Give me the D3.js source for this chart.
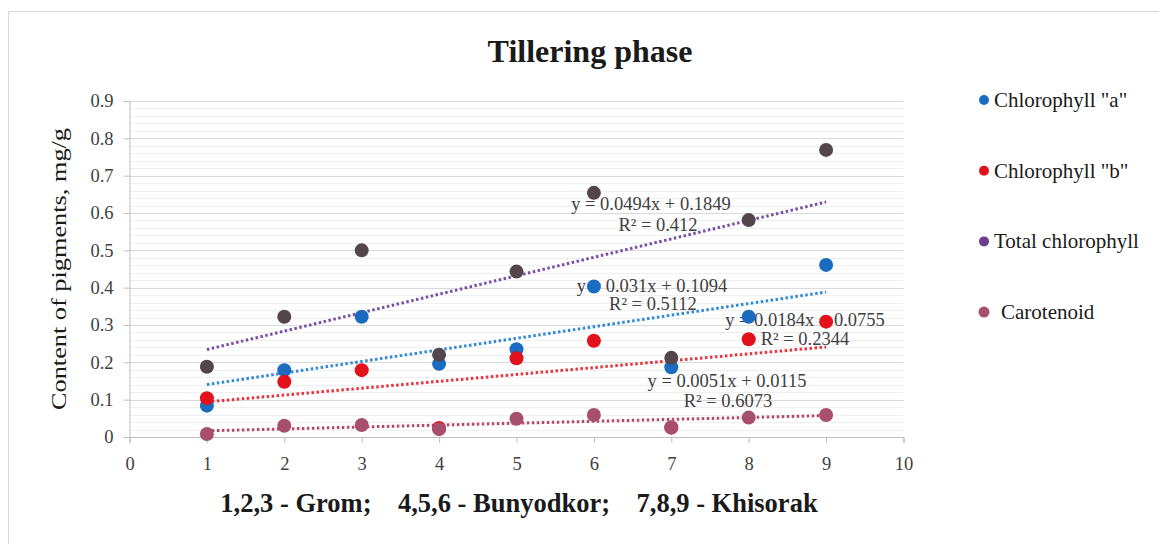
<!DOCTYPE html>
<html>
<head>
<meta charset="utf-8">
<script src="https://cdn.jsdelivr.net/npm/d3@7"></script>
<style>
  html, body { margin: 0; padding: 0; background: #fff; }
  svg { display: block; }
  svg text { font-family: 'Liberation Serif'; }
</style>
</head>
<body>
<svg id="chart" width="1159" height="544"></svg>
<script>
// Sample numbers (1,2,3 - Grom; 4,5,6 - Bunyodkor; 7,8,9 - Khisorak)
const samples = [1, 2, 3, 4, 5, 6, 7, 8, 9];

// Pigment content, mg/g
const chlA     = [0.084, 0.179, 0.322, 0.196, 0.235, 0.403, 0.187, 0.322, 0.461];
const chlB     = [0.104, 0.148, 0.179, 0.024, 0.211, 0.258, 0.025, 0.262, 0.309];
const chlTotal = [0.188, 0.322, 0.500, 0.220, 0.443, 0.654, 0.212, 0.581, 0.769];
const carot    = [0.008, 0.030, 0.032, 0.021, 0.049, 0.059, 0.026, 0.052, 0.059];

// Linear trend coefficients: slope, intercept, R²
const trendA     = [0.031, 0.1094, 0.5112];
const trendB     = [0.0184, 0.0755, 0.2344];
const trendTotal = [0.0494, 0.1849, 0.412];
const trendCarot = [0.0051, 0.0115, 0.6073];

const seriesNames = ['Chlorophyll "a"', 'Chlorophyll "b"', 'Total chlorophyll', 'Carotenoid'];
const xTicks = [0, 1, 2, 3, 4, 5, 6, 7, 8, 9, 10];
const yTicks = [0, 0.1, 0.2, 0.3, 0.4, 0.5, 0.6, 0.7, 0.8, 0.9];

const FONT = "Liberation Serif";

const series = [
  { name: seriesNames[0], values: chlA,     trend: trendA,     fill: "#1b6cc0", line: "#2f8ad8",
    legendR: 5, legendDx: 10,
    label: { x: 652, y: 292, rx: 653, ry: 310 } },
  { name: seriesNames[1], values: chlB,     trend: trendB,     fill: "#e3111b", line: "#e8343f",
    legendR: 5, legendDx: 10,
    label: { x: 805, y: 326, rx: 805, ry: 345 } },
  { name: seriesNames[2], values: chlTotal, trend: trendTotal, fill: "#52464c", line: "#7b4ea6",
    legend: "#6a3f8e", legendR: 5, legendDx: 10,
    label: { x: 651, y: 210, rx: 658, ry: 231 } },
  { name: seriesNames[3], values: carot,    trend: trendCarot, fill: "#a74f6d", line: "#b2496b",
    legendR: 5.5, legendDx: 17,
    label: { x: 727, y: 387, rx: 728, ry: 407 } }
];

const svg = d3.select("#chart");

// chart frame
svg.append("rect")
  .attr("x", 8.5).attr("y", 11.5).attr("width", 1160).attr("height", 540)
  .attr("fill", "#fff").attr("stroke", "#d9d9d9");

const x = d3.scaleLinear().domain([0, 10]).range([129.5, 903.5]);
const y = d3.scaleLinear().domain([0, 0.9]).range([437, 101]);

// minor gridlines
const minor = d3.range(0, 0.9001, 0.02).filter(v => Math.abs(Math.round(v * 10) - v * 10) > 1e-6);
svg.append("g").selectAll("line").data(minor).join("line")
  .attr("x1", x(0)).attr("x2", x(10))
  .attr("y1", d => Math.round(y(d)) + 0.5).attr("y2", d => Math.round(y(d)) + 0.5)
  .attr("stroke", "#efefef").attr("stroke-width", 1);

// major gridlines
svg.append("g").selectAll("line").data(yTicks.slice(1)).join("line")
  .attr("x1", x(0)).attr("x2", x(10))
  .attr("y1", d => Math.round(y(d)) + 0.5).attr("y2", d => Math.round(y(d)) + 0.5)
  .attr("stroke", "#d9d9d9").attr("stroke-width", 1);

// y axis
const yAxis = svg.append("g")
  .attr("transform", `translate(${x(0)},0)`)
  .call(d3.axisLeft(y).tickValues(yTicks).tickSize(6).tickPadding(10).tickFormat(d => d === 0 ? "0" : d3.format(".1f")(d)))
  .attr("font-family", FONT).attr("font-size", 18.5);
yAxis.select(".domain").attr("stroke", "#bfbfbf");
yAxis.selectAll(".tick line").attr("stroke", "#bfbfbf");
yAxis.selectAll(".tick text").attr("fill", "#404040");

// x axis
const xAxis = svg.append("g")
  .attr("transform", `translate(0,${y(0)})`)
  .call(d3.axisBottom(x).tickValues(xTicks).tickSize(6).tickPadding(14).tickFormat(d3.format("d")))
  .attr("font-family", FONT).attr("font-size", 18.5);
xAxis.select(".domain").attr("stroke", "#bfbfbf");
xAxis.selectAll(".tick line").attr("stroke", "#bfbfbf");
xAxis.selectAll(".tick text").attr("fill", "#404040");

// trendlines
series.forEach(s => {
  const [m, b] = s.trend;
  svg.append("line")
    .attr("x1", x(1)).attr("y1", y(m * 1 + b))
    .attr("x2", x(9)).attr("y2", y(m * 9 + b))
    .attr("stroke", s.line).attr("stroke-width", 3)
    .attr("stroke-dasharray", "2.5,2.5");
});

// trend equations
series.forEach(s => {
  const [m, b, r2] = s.trend;
  svg.append("text")
    .attr("x", s.label.x).attr("y", s.label.y)
    .attr("text-anchor", "middle").attr("font-size", 18.5).attr("fill", "#404040")
    .attr("font-family", FONT)
    .text(`y = ${m}x + ${b}`);
  svg.append("text")
    .attr("x", s.label.rx).attr("y", s.label.ry)
    .attr("text-anchor", "middle").attr("font-size", 18.5).attr("fill", "#404040")
    .attr("font-family", FONT)
    .text(`R² = ${r2}`);
});

// markers
series.forEach(s => {
  svg.append("g").selectAll("circle").data(samples).join("circle")
    .attr("cx", d => x(d))
    .attr("cy", (d, i) => y(s.values[i]))
    .attr("r", 7)
    .attr("fill", s.fill);
});

// title
svg.append("text")
  .attr("x", 590).attr("y", 62)
  .attr("text-anchor", "middle").attr("font-size", 32).attr("font-weight", "bold")
  .attr("fill", "#1a1a1a").attr("font-family", FONT)
  .text("Tillering phase");

// y axis title
svg.append("text")
  .attr("transform", `translate(66,${(y(0) + y(0.9)) / 2}) rotate(-90)`)
  .attr("text-anchor", "middle").attr("font-size", 21).attr("fill", "#1a1a1a")
  .attr("font-family", FONT)
  .attr("textLength", 282).attr("lengthAdjust", "spacingAndGlyphs")
  .text("Content of pigments, mg/g");

// x axis title
svg.append("text")
  .attr("x", 519).attr("y", 512)
  .attr("text-anchor", "middle").attr("font-size", 26.5).attr("font-weight", "bold")
  .attr("fill", "#1a1a1a").attr("font-family", FONT)
  .style("white-space", "pre")
  .text("1,2,3 - Grom;    4,5,6 - Bunyodkor;    7,8,9 - Khisorak");

// legend
const legend = svg.append("g");
series.forEach((s, i) => {
  const ly = 100 + i * 70.7;
  legend.append("circle").attr("cx", 984).attr("cy", ly).attr("r", s.legendR)
    .attr("fill", s.legend || s.fill);
  legend.append("text").attr("x", 984 + s.legendDx).attr("y", ly + 7)
    .attr("font-size", 21).attr("fill", "#1a1a1a")
    .attr("font-family", FONT)
    .text(s.name);
});
</script>
</body>
</html>
